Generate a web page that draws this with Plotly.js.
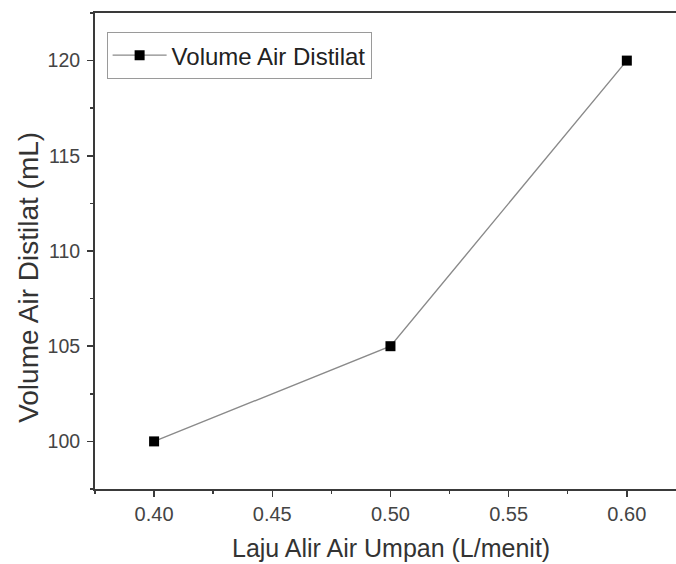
<!DOCTYPE html>
<html>
<head>
<meta charset="utf-8">
<script src="https://cdn.plot.ly/plotly-3.0.1.min.js"></script>
<style>
  html, body { margin: 0; padding: 0; background: #fff; }
  #chart { width: 676px; height: 564px; }
</style>
</head>
<body>
<div id="chart"></div>
<script>
// Feed flow rate (L/min) vs distillate volume (mL)
const flowRate = [0.40, 0.50, 0.60];
const distillateVolume = [100, 105, 120];
const seriesName = 'Volume Air Distilat';
const xTitle = 'Laju Alir Air Umpan (L/menit)';
const yTitle = 'Volume Air Distilat (mL)';
const xTickVals = [0.40, 0.45, 0.50, 0.55, 0.60];
const xTickText = ['0.40', '0.45', '0.50', '0.55', '0.60'];
const yTickVals = [100, 105, 110, 115, 120];

const axisColor = '#3a3a3a';
const font = 'Liberation Sans, Arial, sans-serif';

const trace = {
  x: flowRate,
  y: distillateVolume,
  name: seriesName,
  type: 'scatter',
  mode: 'lines+markers',
  line: { color: '#8a8a8a', width: 1.4 },
  marker: { symbol: 'square', size: 10, color: '#000' },
  showlegend: true
};

const layout = {
  width: 676,
  height: 564,
  margin: { l: 95, r: 0, t: 13, b: 75 },
  paper_bgcolor: '#fff',
  plot_bgcolor: '#fff',
  font: { family: font, color: '#333' },
  showlegend: true,
  legend: {
    x: 0.02, y: 0.96, xanchor: 'left', yanchor: 'top',
    bordercolor: '#9a9a9a', borderwidth: 1, bgcolor: '#fff',
    font: { family: font, size: 24, color: '#222' },
    itemwidth: 54,
    tracegroupgap: 0
  },
  xaxis: {
    range: [0.375, 0.6208],
    tickvals: xTickVals,
    ticktext: xTickText,
    ticks: 'outside', ticklen: 6, tickwidth: 1.5, tickcolor: axisColor,
    minor: { dtick: 0.025, ticks: 'outside', ticklen: 3, tickwidth: 1.5, tickcolor: axisColor },
    showline: true, linecolor: axisColor, linewidth: 2, mirror: true,
    showgrid: false, zeroline: false,
    tickfont: { family: font, size: 20, color: '#444' }
  },
  yaxis: {
    range: [97.5, 122.5],
    tickvals: yTickVals,
    ticks: 'outside', ticklen: 6, tickwidth: 1.5, tickcolor: axisColor,
    minor: { dtick: 2.5, ticks: 'outside', ticklen: 3, tickwidth: 1.5, tickcolor: axisColor },
    showline: true, linecolor: axisColor, linewidth: 2, mirror: false,
    showgrid: false, zeroline: false,
    ticklabelstandoff: 3,
    tickfont: { family: font, size: 19.5, color: '#444' }
  },
  annotations: [
    {
      text: xTitle, xref: 'paper', yref: 'paper',
      x: 0.51, y: -0.124, xanchor: 'center', yanchor: 'middle',
      showarrow: false, font: { family: font, size: 25, color: '#333' }
    },
    {
      text: yTitle, xref: 'paper', yref: 'paper', textangle: -90,
      x: -0.115, y: 0.444, xanchor: 'center', yanchor: 'middle',
      showarrow: false, font: { family: font, size: 28, color: '#333' }
    }
  ]
};

Plotly.newPlot('chart', [trace], layout, { staticPlot: true, displayModeBar: false });
</script>
</body>
</html>
